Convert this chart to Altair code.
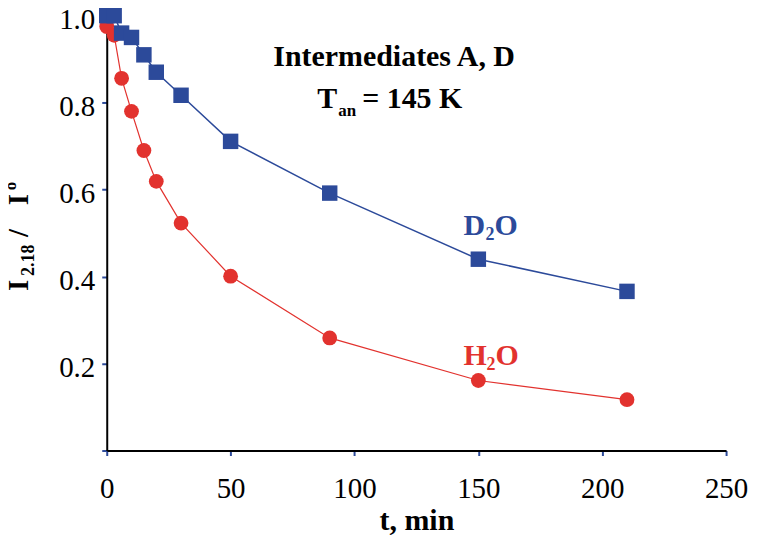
import altair as alt
import pandas as pd

# ---- data ----
t_d2o = [0, 3, 6, 10, 15, 20, 30, 50, 90, 150, 210]
i_d2o = [1.0, 1.0, 0.96, 0.95, 0.91, 0.87, 0.817, 0.711, 0.592, 0.440, 0.366]
t_h2o = [0, 3, 6, 10, 15, 20, 30, 50, 90, 150, 210]
i_h2o = [0.975, 0.955, 0.856, 0.780, 0.690, 0.619, 0.523, 0.401, 0.259, 0.161, 0.117]

x_ticks = [0, 50, 100, 150, 200, 250]
y_ticks = [0, 0.2, 0.4, 0.6, 0.8, 1.0]

BLUE = "#2C4A9A"
RED = "#E2322E"
SERIF = "Liberation Serif"

d2o = pd.DataFrame({"t": t_d2o, "I": i_d2o})
h2o = pd.DataFrame({"t": t_h2o, "I": i_h2o})
one = pd.DataFrame({"a": [0]})

xscale = alt.Scale(domain=[0, 250], nice=False)
yscale = alt.Scale(domain=[0, 1.0], nice=False)

xaxis = alt.Axis(values=x_ticks, title="t, min", labelFont=SERIF, labelFontSize=29,
                 labelColor="black", labelFlush=False, labelOverlap=False,
                 labelPadding=19, tickColor=BLUE, tickSize=5, tickWidth=2,
                 domainColor="black", domainWidth=2, grid=False,
                 titleFont=SERIF, titleFontSize=30, titleFontWeight="bold",
                 titleColor="black", titlePadding=2)
yaxis = alt.Axis(values=y_ticks, title=None, labelFont=SERIF, labelFontSize=29,
                 labelColor="black", labelFlush=False, labelOverlap=False,
                 labelExpr="datum.value == 0 ? '' : format(datum.value, '.1f')",
                 labelPadding=7, labelOffset=4, tickColor=BLUE, tickSize=5, tickWidth=2,
                 domainColor="black", domainWidth=2, grid=False)


def series(df, color, shape, size, width):
    base = alt.Chart(df).encode(
        x=alt.X("t:Q", scale=xscale, axis=xaxis),
        y=alt.Y("I:Q", scale=yscale, axis=yaxis),
    )
    line = base.mark_line(color=color, strokeWidth=width)
    pts = base.mark_point(shape=shape, size=size, filled=True, color=color, opacity=1)
    return line + pts


def txt(text, x, y, size, color="black", dx=0, dy=0, align="left"):
    return alt.Chart(one).mark_text(
        text=text, font=SERIF, fontSize=size, fontWeight="bold", color=color,
        align=align, baseline="alphabetic", dx=dx, dy=dy
    ).encode(x=alt.datum(x), y=alt.datum(y))


def ytxt(text, px, py, size):
    return alt.Chart(one).mark_text(
        text=text, font=SERIF, fontSize=size, fontWeight="bold", color="black",
        align="left", baseline="alphabetic", angle=270
    ).encode(x=alt.value(px), y=alt.value(py))


layers = [
    series(h2o, RED, "circle", 220, 1.2),
    series(d2o, BLUE, "square", 240, 1.5),
    # header
    txt("Intermediates A, D", 116, 0.885, 30, align="center"),
    txt("T", 85, 0.787, 30),
    txt("an", 85, 0.787, 17, dx=21, dy=8),
    txt("= 145 K", 85, 0.787, 30, dx=45),
    # series labels
    txt("D", 144, 0.495, 30, color=BLUE),
    txt("2", 144, 0.495, 18, color=BLUE, dx=22, dy=5),
    txt("O", 144, 0.495, 30, color=BLUE, dx=31),
    txt("H", 144, 0.197, 30, color=RED),
    txt("2", 144, 0.197, 18, color=RED, dx=23, dy=5),
    txt("O", 144, 0.197, 30, color=RED, dx=32),
    # y-axis title  I_2.18 / I^o
    ytxt("I", -79, 276, 29),
    ytxt("2.18", -73, 261, 18),
    ytxt("/", -79, 222, 29),
    ytxt("I", -79, 190, 29),
    ytxt("o", -91, 175, 17),
]

chart = alt.layer(*layers).properties(
    width=621, height=436,
    autosize=alt.AutoSizeParams(type="none"),
    padding={"left": 99, "top": 7, "right": 30, "bottom": 90},
).configure_view(stroke=None)

chart.save("out.html", embed_options={"renderer": "svg", "actions": False})
